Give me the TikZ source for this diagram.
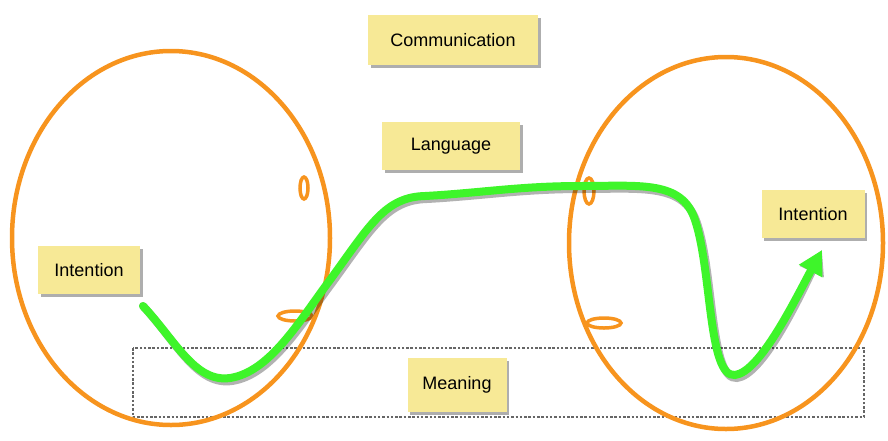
\documentclass[tikz,border=0pt]{standalone}
\usepackage{fontspec}
\setmainfont{Liberation Sans}
\usetikzlibrary{shadows,arrows.meta}
\definecolor{boxy}{RGB}{247,233,150}
\definecolor{orng}{RGB}{247,148,30}
\definecolor{grn}{RGB}{62,245,42}
\begin{document}
\begin{tikzpicture}[x=1pt,y=-1pt,
  note/.style={fill=boxy, draw=none, inner sep=0pt, font=\fontsize{18}{21}\selectfont,
    drop shadow={shadow xshift=2.5pt, shadow yshift=-2.5pt, opacity=0.45, fill=black!70}},
  ring/.style={draw=orng, line width=4.5pt},
  loopring/.style={draw=orng, line width=3.5pt},
  frame/.style={draw=black!60, line width=2.5pt, dash pattern=on 2.5pt off 1.8pt},
  flow/.style={draw=grn, line width=8pt, line cap=round, -{Triangle[length=24pt,width=25pt]}},
  flowshadow/.style={draw=black, opacity=0.3, line width=8pt, line cap=round, -{Triangle[length=24pt,width=25pt]}}]
\useasboundingbox (0,0) rectangle (888,440);
% frame
\draw[frame] (133,348) rectangle (864,417);
% big ellipses
\draw[ring] (171,238) ellipse [x radius=159pt, y radius=187pt];
\draw[ring] (726,243) ellipse [x radius=157pt, y radius=186pt];
% small loops
\draw[loopring] (304,188) ellipse [x radius=4pt, y radius=11pt];
\draw[loopring] (295,316) ellipse [x radius=17pt, y radius=5pt];
\draw[loopring] (589,191) ellipse [x radius=5pt, y radius=13pt];
\draw[loopring] (604,323) ellipse [x radius=17pt, y radius=5pt];
% boxes
\node[note, minimum width=170pt, minimum height=50pt] (comm) at (453,40) {Communication};
\node[note, minimum width=138pt, minimum height=48pt] (lang) at (451,146) {Language};
\node[note, minimum width=102pt, minimum height=48pt] (intl) at (89,270) {Intention};
\node[note, minimum width=103pt, minimum height=48pt] (intr) at (813,214) {Intention};
\node[note, minimum width=99pt, minimum height=54pt] (mean) at (457,385) {Meaning};
% green curve
\coordinate (s) at (143,306);
\coordinate (e) at (822,250);
\begin{scope}[xshift=2pt, yshift=-3pt]
\path[flowshadow] (s) .. controls (175,340) and (195,383) .. (230,378)
  .. controls (270,372) and (300,320) .. (330,280)
  .. controls (370,225) and (385,197) .. (425,196)
  .. controls (480,193) and (520,186) .. (580,186)
  .. controls (640,186) and (682,180) .. (695,220)
  .. controls (712,270) and (708,378) .. (735,375)
  .. controls (760,372) and (795,300) .. (e);
\end{scope}
\path[flow] (s) .. controls (175,340) and (195,383) .. (230,378)
  .. controls (270,372) and (300,320) .. (330,280)
  .. controls (370,225) and (385,197) .. (425,196)
  .. controls (480,193) and (520,186) .. (580,186)
  .. controls (640,186) and (682,180) .. (695,220)
  .. controls (712,270) and (708,378) .. (735,375)
  .. controls (760,372) and (795,300) .. (e);
\end{tikzpicture}
\end{document}
